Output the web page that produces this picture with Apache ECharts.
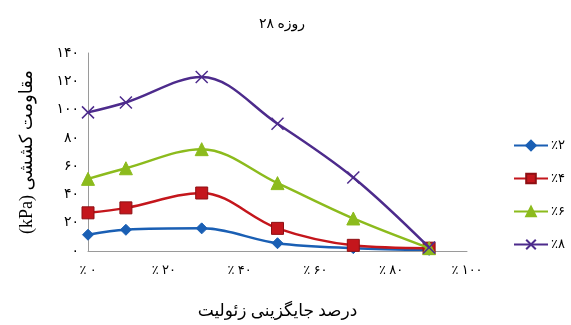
<!DOCTYPE html>
<html>
<head>
<meta charset="utf-8">
<script src="https://cdn.jsdelivr.net/npm/echarts@6/dist/echarts.min.js"></script>
<style>
  html, body { margin: 0; padding: 0; background: #fff; }
  #chart { width: 571px; height: 325px; }
</style>
</head>
<body>
<div id="chart"></div>
<script>
// Zeolite replacement (%) and 28-day tensile strength (kPa)
const xValues = [0, 10, 30, 50, 70, 90];
const seriesNames = ['٪۲', '٪۴', '٪۶', '٪۸'];
const s2 = [11.5, 15, 16, 5.5, 2, 0.8];
const s4 = [27, 30.5, 41, 16, 4, 2];
const s6 = [51, 58.5, 72, 48, 23, 2];
const s8 = [98, 105, 123, 90, 52, 2.5];
const xTicks = [0, 20, 40, 60, 80, 100];
const yTicks = [0, 20, 40, 60, 80, 100, 120, 140];

const faDigits = '۰۱۲۳۴۵۶۷۸۹';
const toFa = n => String(n).replace(/[0-9]/g, d => faDigits[d]);

const pair = arr => xValues.map((x, i) => [x, arr[i]]);

const font = '"Liberation Serif", "DejaVu Serif", "DejaVu Sans", serif';
const crossPath = 'path://M0,0L10,10M10,0L0,10';

const styles = [
  { color: '#1a5fb4', symbol: 'diamond', size: 11, border: '#1a5fb4' },
  { color: '#c4161c', symbol: 'rect', size: 12, border: '#8e0f13' },
  { color: '#8cbb1d', symbol: 'triangle', size: 13, border: '#8cbb1d' },
  { color: '#4d2b8c', symbol: crossPath, size: 12, border: '#4d2b8c' }
];
const dataSets = [s2, s4, s6, s8];

const chart = echarts.init(document.getElementById('chart'), null, { renderer: 'canvas' });

chart.setOption({
  animation: false,
  backgroundColor: '#ffffff',
  title: {
    text: '۲۸ روزه',
    left: 277,
    top: 12,
    textAlign: 'center',
    textStyle: { fontFamily: font, fontSize: 14, fontWeight: 'normal', color: '#000' }
  },
  grid: { left: 88, right: 104, top: 53, bottom: 66 },
  legend: {
    orient: 'vertical',
    left: 508,
    top: 134,
    itemWidth: 34,
    itemHeight: 12,
    itemGap: 20,
    textStyle: { fontFamily: font, fontSize: 13, color: '#000', padding: [0, 0, 0, -2] },
    data: seriesNames
  },
  xAxis: {
    type: 'value',
    min: 0,
    max: 100,
    interval: 20,
    name: 'درصد جایگزینی زئولیت',
    nameLocation: 'middle',
    nameGap: 52,
    nameTextStyle: { fontFamily: font, fontSize: 17, color: '#000' },
    axisLine: { show: true, lineStyle: { color: '#9a9a9a', width: 1 } },
    axisTick: { show: false },
    splitLine: { show: false },
    axisLabel: {
      margin: 13,
      fontFamily: font,
      fontSize: 13,
      color: '#000',
      formatter: v => '٪ ' + toFa(v)
    }
  },
  yAxis: {
    type: 'value',
    min: 0,
    max: 140,
    interval: 20,
    name: '(kPa) مقاومت کششی',
    nameLocation: 'middle',
    nameGap: 52,
    nameRotate: 90,
    nameTextStyle: { fontFamily: font, fontSize: 18, color: '#000' },
    axisLine: { show: true, lineStyle: { color: '#9a9a9a', width: 1 } },
    axisTick: { show: false },
    splitLine: { show: false },
    axisLabel: {
      margin: 9,
      fontFamily: font,
      fontSize: 14,
      color: '#000',
      formatter: v => toFa(v)
    }
  },
  series: dataSets.map((d, i) => ({
    name: seriesNames[i],
    type: 'line',
    data: pair(d),
    smooth: 0.35,
    symbol: styles[i].symbol,
    symbolSize: styles[i].size,
    lineStyle: { color: styles[i].color, width: 2.5 },
    itemStyle: {
      color: styles[i].color,
      borderColor: styles[i].border,
      borderWidth: i === 3 ? 1.5 : 1
    },
    z: 2 + i
  }))
});
</script>
</body>
</html>
